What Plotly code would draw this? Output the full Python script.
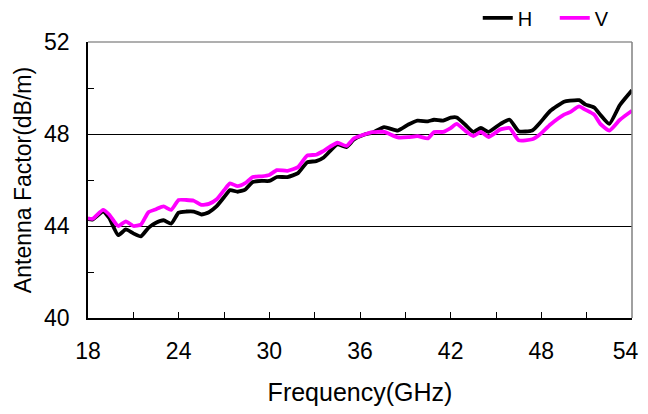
import plotly.graph_objects as go

freq = [18, 18.3, 19.0, 19.4, 20.0, 20.5, 21.0, 21.5, 22.0, 22.5, 23.0, 23.5, 24.0, 24.5,
        25.0, 25.5, 26.0, 26.5, 27.0, 27.4, 27.9, 28.4, 28.9, 29.5, 30.0, 30.5, 31.2, 31.9,
        32.5, 33.1, 33.6, 34.5, 35.1, 35.6, 36.3, 36.8, 37.6, 38.5, 39.2, 39.8, 40.5, 40.9,
        41.5, 42.0, 42.4, 43.0, 43.5, 44.0, 44.5, 45.3, 45.9, 46.5, 47.4, 47.9, 48.6, 49.5,
        49.9, 50.5, 50.9, 51.5, 51.9, 52.5, 53.2, 54.0]

af_h = [44.3, 44.28, 44.63, 44.35, 43.6, 43.85, 43.68, 43.55, 43.92, 44.14, 44.25, 44.1,
        44.58, 44.63, 44.63, 44.5, 44.6, 44.85, 45.25, 45.56, 45.49, 45.58, 45.91, 45.96,
        45.96, 46.13, 46.13, 46.3, 46.77, 46.82, 46.98, 47.55, 47.43, 47.76, 47.98, 48.05,
        48.3, 48.15, 48.41, 48.58, 48.55, 48.62, 48.58, 48.71, 48.72, 48.38, 48.09, 48.26,
        48.09, 48.44, 48.62, 48.12, 48.15, 48.48, 49.01, 49.4, 49.45, 49.47, 49.29, 49.15,
        48.84, 48.44, 49.26, 49.9]

af_v = [44.33, 44.31, 44.7, 44.5, 44.0, 44.2, 44.0, 44.06, 44.6, 44.73, 44.85, 44.7,
        45.13, 45.13, 45.1, 44.92, 44.96, 45.15, 45.55, 45.85, 45.73, 45.86, 46.13, 46.16,
        46.22, 46.43, 46.4, 46.56, 47.06, 47.1, 47.27, 47.62, 47.48, 47.81, 47.98, 48.08,
        48.09, 47.85, 47.86, 47.91, 47.81, 48.09, 48.09, 48.26, 48.44, 48.12, 47.91, 48.09,
        47.87, 48.2, 48.26, 47.73, 47.77, 47.98, 48.41, 48.84, 48.95, 49.2, 49.06, 48.84,
        48.44, 48.15, 48.62, 49.01]

x_ticks = [18, 24, 30, 36, 42, 48, 54]
x_tick_labels = ["18", "24", "30", "36", "42", "48", "54\u00a0\u00a0"]
y_ticks = [40, 44, 48, 52]

font_family = "Liberation Sans, Arial, sans-serif"

fig = go.Figure()
fig.add_trace(go.Scatter(x=freq, y=af_h, mode="lines", name="H",
                         line=dict(color="#000000", width=3.8, shape="spline", smoothing=0.5)))
fig.add_trace(go.Scatter(x=freq, y=af_v, mode="lines", name="V",
                         line=dict(color="#ff00ff", width=3.8, shape="spline", smoothing=0.5)))

fig.update_layout(
    width=640, height=398,
    margin=dict(l=80, r=16, t=33.5, b=87.5, autoexpand=False),
    paper_bgcolor="white", plot_bgcolor="white",
    font=dict(family=font_family, size=23, color="#000000"),
    showlegend=True,
    legend=dict(orientation="h", xref="container", yref="container",
                x=0.734, xanchor="left", y=0.975, yanchor="middle",
                font=dict(size=20), bgcolor="rgba(0,0,0,0)", itemwidth=30,
                entrywidth=32, entrywidthmode="pixels", borderwidth=0),
    xaxis=dict(
        range=[18, 54], tickmode="array", tickvals=x_ticks, ticktext=x_tick_labels,
        ticklabeloverflow="allow",
        ticks="inside", ticklen=6, tickwidth=1, tickcolor="#000",
        minor=dict(dtick=3, ticks="inside", ticklen=6, tickwidth=1, tickcolor="#000", showgrid=False),
        showline=True, linecolor="#000", linewidth=1.5, mirror=False,
        showgrid=False, zeroline=False,
        tickfont=dict(size=23),
        ticklabelstandoff=12,
        title=dict(text="Frequency(GHz)", font=dict(size=25), standoff=24),
    ),
    yaxis=dict(
        range=[40, 52], tickmode="array", tickvals=y_ticks,
        ticks="inside", ticklen=6, tickwidth=1, tickcolor="#000",
        minor=dict(dtick=2, ticks="inside", ticklen=6, tickwidth=1, tickcolor="#000", showgrid=False),
        showline=True, linecolor="#000", linewidth=1.5, mirror=False,
        showgrid=True, gridcolor="#000", gridwidth=1.2, zeroline=False,
        tickfont=dict(size=23),
        ticklabelstandoff=12,
        title=dict(text="Antenna Factor(dB/m)", font=dict(size=23), standoff=6),
    ),
    shapes=[
        dict(type="line", xref="paper", yref="paper", x0=0, x1=1, y0=1, y1=1,
             line=dict(color="#606060", width=1.2), layer="above"),
        dict(type="line", xref="paper", yref="paper", x0=1, x1=1, y0=0, y1=1,
             line=dict(color="#808080", width=1.5), layer="above"),
    ],
)

fig.write_html("out.html")
